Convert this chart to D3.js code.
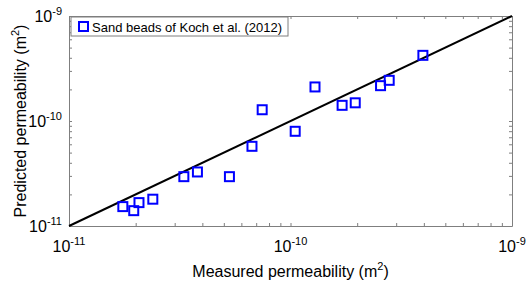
<!DOCTYPE html>
<html>
<head>
<meta charset="utf-8">
<script src="https://cdn.jsdelivr.net/npm/d3@7"></script>
<style>
	body { margin: 0; background: #fff; }
	text { font-family: Arial, 'Liberation Sans', sans-serif; fill: #000; }
</style>
</head>
<body>
<div id="chart"></div>
<script>
// measured vs predicted permeability (m^2), Koch et al. (2012) sand beads
const measured = [
	1.75e-11, 1.96e-11, 2.07e-11, 2.39e-11, 3.3e-11, 3.8e-11, 5.3e-11, 6.7e-11,
	7.45e-11, 1.05e-10, 1.29e-10, 1.71e-10, 1.96e-10, 2.55e-10, 2.79e-10, 3.96e-10
];
const predicted = [
	1.53e-11, 1.4e-11, 1.67e-11, 1.8e-11, 2.95e-11, 3.27e-11, 2.95e-11, 5.74e-11,
	1.28e-10, 7.98e-11, 2.11e-10, 1.41e-10, 1.49e-10, 2.17e-10, 2.44e-10, 4.22e-10
];
const domain = [1e-11, 1e-9];
const majorTicks = [1e-11, 1e-10, 1e-9];
const seriesName = 'Sand beads of Koch et al. (2012)';

const WIDTH = 527;
const HEIGHT = 285;
const margin = { top: 16, right: 15, bottom: 59, left: 69 };
const w = WIDTH - margin.left - margin.right;
const h = HEIGHT - margin.top - margin.bottom;

const AXIS_COLOR = '#7f7f7f';
const BLUE = '#0000ff';

const x = d3.scaleLog().domain(domain).range([0, w]);
const y = d3.scaleLog().domain(domain).range([h, 0]);

const $svg = d3.select('#chart').append('svg')
	.attr('width', WIDTH)
	.attr('height', HEIGHT);

const $g = $svg.append('g')
	.attr('transform', `translate(${margin.left},${margin.top})`);

// box with inward minor ticks on all four sides
const styleAxis = $a => {
	$a.select('.domain').attr('stroke', AXIS_COLOR);
	$a.selectAll('.tick line').attr('stroke', AXIS_COLOR);
};
const allTicks = x.ticks();

$g.append('g').attr('transform', `translate(0,${h})`)
	.call(d3.axisBottom(x).tickValues(allTicks).tickSize(-3).tickSizeOuter(0).tickFormat(''))
	.call(styleAxis);
$g.append('g')
	.call(d3.axisTop(x).tickValues(allTicks).tickSize(-3).tickSizeOuter(0).tickFormat(''))
	.call(styleAxis);
$g.append('g')
	.call(d3.axisLeft(y).tickValues(allTicks).tickSize(-3).tickSizeOuter(0).tickFormat(''))
	.call(styleAxis);
$g.append('g').attr('transform', `translate(${w},0)`)
	.call(d3.axisRight(y).tickValues(allTicks).tickSize(-3).tickSizeOuter(0).tickFormat(''))
	.call(styleAxis);

// power-of-ten labels
const addPow = ($t, v) => {
	$t.append('tspan').text('10');
	$t.append('tspan')
		.attr('dy', -7)
		.style('font-size', '11px')
		.text(Math.round(Math.log10(v)));
};

majorTicks.forEach(v => {
	$g.append('text')
		.attr('x', x(v))
		.attr('y', h + 26)
		.attr('text-anchor', 'middle')
		.style('font-size', '16px')
		.call(addPow, v);
	$g.append('text')
		.attr('x', -7)
		.attr('y', y(v) + 6)
		.attr('text-anchor', 'end')
		.style('font-size', '16px')
		.call(addPow, v);
});

// axis titles
const $xt = $g.append('text')
	.attr('x', w / 2)
	.attr('y', h + 51)
	.attr('text-anchor', 'middle')
	.style('font-size', '16px');
$xt.append('tspan').text('Measured permeability (m');
$xt.append('tspan').attr('dy', -7).style('font-size', '11px').text('2');
$xt.append('tspan').attr('dy', 7).text(')');

const $yt = $g.append('text')
	.attr('transform', `translate(${25.5 - margin.left},${h / 2}) rotate(-90)`)
	.attr('text-anchor', 'middle')
	.style('font-size', '16px');
$yt.append('tspan').text('Predicted permeability (m');
$yt.append('tspan').attr('dy', -7).style('font-size', '11px').text('2');
$yt.append('tspan').attr('dy', 7).text(')');

// 1:1 line
$g.append('line')
	.attr('x1', x(domain[0]))
	.attr('y1', y(domain[0]))
	.attr('x2', x(domain[1]))
	.attr('y2', y(domain[1]))
	.attr('stroke', '#000')
	.attr('stroke-width', 2);

// points
const SQ = 9;
$g.append('g').selectAll('rect')
	.data(measured.map((m, i) => [m, predicted[i]]))
	.join('rect')
	.attr('x', d => x(d[0]) - SQ / 2)
	.attr('y', d => y(d[1]) - SQ / 2)
	.attr('width', SQ)
	.attr('height', SQ)
	.attr('fill', 'none')
	.attr('stroke', BLUE)
	.attr('stroke-width', 2);

// legend
const $leg = $g.append('g').attr('transform', 'translate(2,1)');
$leg.append('rect')
	.attr('width', 217)
	.attr('height', 19)
	.attr('fill', '#fff')
	.attr('stroke', AXIS_COLOR);
$leg.append('rect')
	.attr('x', 8)
	.attr('y', 5)
	.attr('width', SQ)
	.attr('height', SQ)
	.attr('fill', 'none')
	.attr('stroke', BLUE)
	.attr('stroke-width', 2);
$leg.append('text')
	.attr('x', 21)
	.attr('y', 14.5)
	.style('font-size', '13px')
	.text(seriesName);
</script>
</body>
</html>
